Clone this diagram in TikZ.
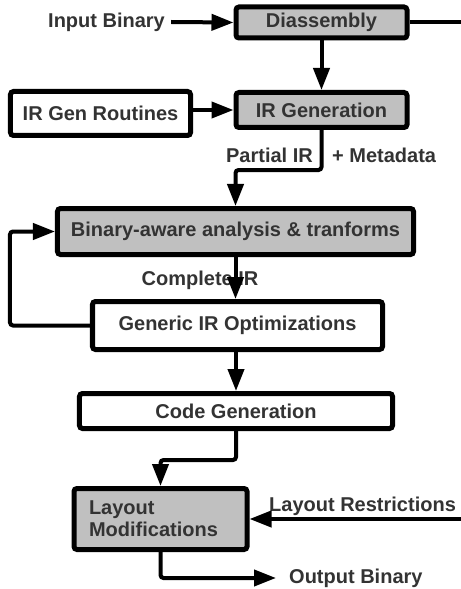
\documentclass[tikz,border=0pt]{standalone}
\usepackage{fontspec}
\setmainfont{Liberation Sans}
\usetikzlibrary{arrows.meta}
\definecolor{ink}{HTML}{333333}
\definecolor{shade}{HTML}{C0C0C0}
\tikzset{
  stage/.style={draw=black, line width=5bp, rounded corners=3bp, inner sep=0pt,
    font=\fontsize{20bp}{22bp}\selectfont\bfseries, text=ink},
  greystage/.style={stage, fill=shade},
  whitestage/.style={stage, fill=white},
  tag/.style={inner sep=0pt, font=\fontsize{20bp}{22bp}\selectfont\bfseries, text=ink},
  flow/.style={line width=4bp, rounded corners=3bp,
    -{Triangle[length=22bp, width=16bp]}},
  plainflow/.style={line width=4bp}
}
\begin{document}
\begin{tikzpicture}[x=1bp, y=-1bp]
\useasboundingbox (0,0) rectangle (461,589);

% stages
\node[greystage, minimum width=171bp, minimum height=31bp] (dis) at (321.5,22.5) {Diassembly};
\node[whitestage, minimum width=180bp, minimum height=44bp] (igr) at (100.5,113.5) {IR Gen Routines};
\node[greystage, minimum width=171bp, minimum height=35bp] (irg) at (321.5,110) {IR Generation};
\node[greystage, minimum width=356bp, minimum height=46bp] (bin) at (235.5,231.5) {Binary-aware analysis \& tranforms};
\node[whitestage, minimum width=290bp, minimum height=48bp] (gen) at (237.5,325.5) {Generic IR Optimizations};
\node[whitestage, minimum width=313bp, minimum height=35bp] (cg) at (236,411) {Code Generation};
\node[greystage, text width=143bp, align=left, inner xsep=15bp, minimum height=61bp] (lay) at (160.5,519) {Layout\\Modifications};

% free labels
\node[tag, anchor=west] (inp) at (48,22) {Input Binary};
\node[tag, anchor=east] (pir) at (313,155) {Partial IR};
\node[tag, anchor=west] (meta) at (332,155) {+ Metadata};
\node[tag] (cir) at (200,280) {Complete IR};
\node[tag, anchor=west] (lres) at (269,506) {Layout Restrictions};
\node[tag, anchor=west] (outb) at (289,578) {Output Binary};

\coordinate (disout) at (461,22.5);
\coordinate (resin) at (461,519);
\coordinate (outend) at (276,578);

% connectors
\draw[flow] ([xshift=6bp]inp.east) -- (dis.west);
\draw[plainflow] (dis.east) -- (disout);
\draw[flow] (dis.south -| irg.north) -- (irg.north);
\draw[flow] (igr.east |- irg.west) -- (irg.west);
\draw[flow] (irg.south) -- ++(0,40) -| (bin.north);
\draw[flow] (bin.south) -- (bin.south |- gen.north);
\draw[flow] (gen.west) -- ++(-80,0) |- (bin.west);
\draw[flow] (gen.south -| cg.north) -- (cg.north);
\draw[flow] (cg.south) -- ++(0,29) -| (lay.north);
\draw[flow] (resin) -- (lay.east);
\draw[flow] (lay.south) |- (outend);
\end{tikzpicture}
\end{document}
